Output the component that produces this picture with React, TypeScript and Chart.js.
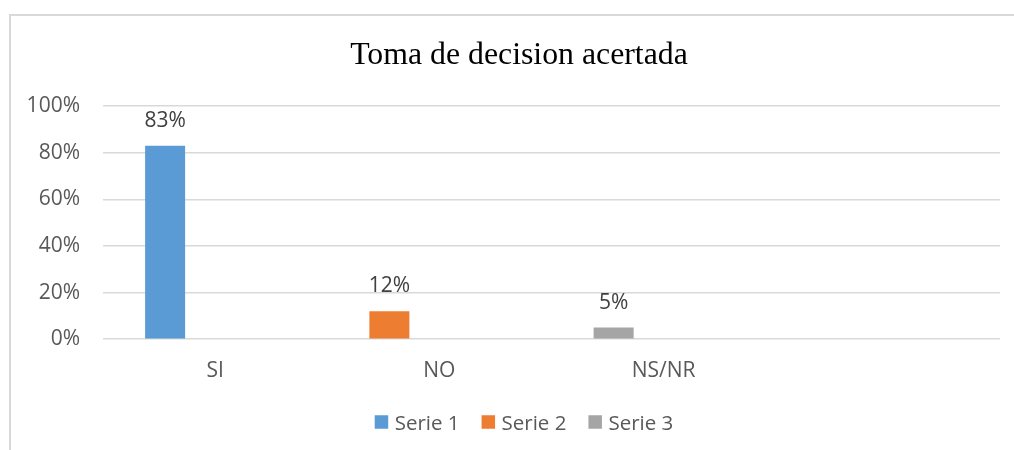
import React, { useEffect, useRef } from "react";
import { Chart, registerables } from "chart.js";

Chart.register(...registerables);

const chartTitle = "Toma de decision acertada";
const categories = ["SI", "NO", "NS/NR", ""];
const values: (number | null)[] = [83, 12, 5, null];
const seriesNames = ["Serie 1", "Serie 2", "Serie 3"];
const seriesColors = ["#5B9BD5", "#ED7D31", "#A5A5A5"];
const yMin = 0;
const yMax = 100;
const yStep = 20;

const FONT = "'Open Sans', 'Noto Sans', sans-serif";
const TEXT = "#595959";
const W = 1014;
const H = 450;

const frameAndLabels = {
  id: "frameAndLabels",
  beforeDraw(chart: any) {
    const ctx = chart.ctx;
    ctx.save();
    ctx.fillStyle = "#ffffff";
    ctx.fillRect(0, 0, chart.width, chart.height);
    ctx.strokeStyle = "#D9D9D9";
    ctx.lineWidth = 2;
    ctx.beginPath();
    ctx.moveTo(10, chart.height + 5);
    ctx.lineTo(10, 15);
    ctx.lineTo(chart.width + 5, 15);
    ctx.stroke();
    ctx.fillStyle = "#000000";
    ctx.font = "31.8px 'Liberation Serif', 'Times New Roman', serif";
    ctx.textAlign = "center";
    ctx.textBaseline = "alphabetic";
    ctx.fillText(chartTitle, 519, 64);
    ctx.restore();
  },
  afterDatasetsDraw(chart: any) {
    const ctx = chart.ctx;
    const meta = chart.getDatasetMeta(0);
    ctx.save();
    ctx.fillStyle = "#404040";
    ctx.font = `21px ${FONT}`;
    ctx.textAlign = "center";
    ctx.textBaseline = "middle";
    meta.data.forEach((bar: any, i: number) => {
      const v = values[i];
      if (v === null || v === undefined) return;
      ctx.fillText(`${v}%`, bar.x, bar.y - 25);
    });
    ctx.restore();
  },
  afterDraw(chart: any) {
    const ctx = chart.ctx;
    ctx.save();
    ctx.font = `20.5px ${FONT}`;
    ctx.textBaseline = "middle";
    ctx.textAlign = "left";
    const box = 13.5;
    const gapBoxText = 6.5;
    const gapItems = 22;
    const widths = seriesNames.map((n) => box + gapBoxText + ctx.measureText(n).width);
    const total = widths.reduce((a, b) => a + b, 0) + gapItems * (seriesNames.length - 1);
    let x = 524 - total / 2;
    const cy = 424;
    seriesNames.forEach((n, i) => {
      ctx.fillStyle = seriesColors[i];
      ctx.fillRect(x, 422 - box / 2, box, box);
      ctx.fillStyle = TEXT;
      ctx.fillText(n, x + box + gapBoxText, cy);
      x += widths[i] + gapItems;
    });
    ctx.restore();
  },
};

export default function App() {
  const ref = useRef<HTMLCanvasElement | null>(null);
  useEffect(() => {
    if (!ref.current) return;
    const chart = new Chart(ref.current, {
      type: "bar",
      data: {
        labels: categories,
        datasets: [
          {
            label: seriesNames[0],
            data: values,
            backgroundColor: values.map((_, i) => seriesColors[i % seriesColors.length]),
            borderWidth: 0,
          },
          {
            label: seriesNames[1],
            data: categories.map(() => null),
            backgroundColor: seriesColors[1],
            borderWidth: 0,
          },
          {
            label: seriesNames[2],
            data: categories.map(() => null),
            backgroundColor: seriesColors[2],
            borderWidth: 0,
          },
        ],
      },
      options: {
        animation: false,
        responsive: false,
        devicePixelRatio: 1,
        events: [],
        categoryPercentage: 0.669,
        barPercentage: 0.8,
        layout: { padding: { top: 106, right: 14, left: 8, bottom: 47.6 } },
        plugins: {
          title: { display: false },
          tooltip: { enabled: false },
          legend: { display: false },
        },
        scales: {
          x: {
            grid: { display: false, drawTicks: false },
            border: { display: false },
            ticks: {
              color: TEXT,
              font: { family: FONT, size: 21 },
              padding: 19,
              maxRotation: 0,
            },
          },
          y: {
            min: yMin,
            max: yMax,
            grid: { color: "#D9D9D9", lineWidth: 1.5, drawTicks: false },
            border: { display: false },
            ticks: {
              stepSize: yStep,
              color: TEXT,
              font: { family: FONT, size: 21 },
              padding: 23,
              callback: (v: any) => `${v}%`,
            },
            afterFit: (scale: any) => {
              scale.width = 95;
            },
          },
        },
      },
      plugins: [frameAndLabels],
    });
    return () => chart.destroy();
  }, []);
  return (
    <div style={{ position: "fixed", left: 0, top: 0, width: W + "px", height: H + "px" }}>
      <canvas ref={ref} width={W} height={H} style={{ display: "block", width: W + "px", height: H + "px" }} />
    </div>
  );
}
